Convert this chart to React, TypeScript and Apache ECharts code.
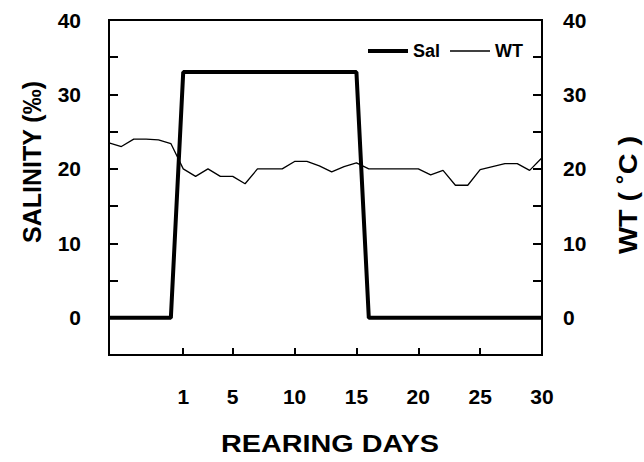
import React, { useEffect, useRef } from "react";
import * as echarts from "echarts";

const days = [-5, -4, -3, -2, -1, 0, 1, 2, 3, 4, 5, 6, 7, 8, 9, 10, 11, 12, 13, 14, 15, 16, 17, 18, 19, 20, 21, 22, 23, 24, 25, 26, 27, 28, 29, 30];
const wtValues = [23.5, 23.0, 24.0, 24.0, 23.9, 23.4, 20.0, 19.0, 20.0, 19.0, 19.0, 18.0, 20.0, 20.0, 20.0, 21.0, 21.0, 20.4, 19.6, 20.3, 20.8, 20.0, 20.0, 20.0, 20.0, 20.0, 19.2, 19.8, 17.8, 17.8, 19.9, 20.3, 20.7, 20.7, 19.8, 21.5];
const salDays = [-5, 0, 1, 15, 16, 30];
const salValues = [0, 0, 33, 33, 0, 0];
const xTickValues = [1, 5, 10, 15, 20, 25];
const xLabelValues = [1, 5, 10, 15, 20, 25, 30];
const yLabelValues = [0, 10, 20, 30, 40];

const FONT = "'Liberation Sans', Arial, Helvetica, sans-serif";

export default function App() {
  const ref = useRef<HTMLDivElement>(null);
  useEffect(() => {
    if (!ref.current) return;
    const chart = echarts.init(ref.current, null, { renderer: "svg" });
    const yAxisCommon = (margin: number) => ({
      type: "value",
      min: -5,
      max: 40,
      interval: 5,
      axisLine: { show: true, onZero: false, lineStyle: { color: "#000", width: 2 } },
      axisTick: { show: true, inside: true, length: 9, lineStyle: { color: "#000", width: 2 } },
      splitLine: { show: false },
      axisLabel: {
        margin,
        color: "#000",
        fontFamily: FONT,
        fontWeight: "bold",
        fontSize: 21,
        formatter: (v: number) => (yLabelValues.includes(v) ? String(v) : ""),
      },
    });
    chart.setOption({
      animation: false,
      backgroundColor: "#fff",
      grid: {
        left: 109,
        top: 20,
        right: 102,
        bottom: 107,
        show: true,
        borderColor: "#000",
        borderWidth: 2,
        containLabel: false,
      },
      legend: {
        left: 363,
        top: 37,
        itemWidth: 40,
        itemHeight: 14,
        itemGap: 10,
        itemStyle: { borderWidth: 0 },
        lineStyle: { width: 0 },
        textStyle: { color: "#000", fontFamily: FONT, fontWeight: "bold", fontSize: 18 },
        data: [
          { name: "Sal", icon: "path://M0,0L0,0M40,14L40,14M0,5L40,5L40,9L0,9Z" },
          { name: "WT", icon: "path://M0,0L0,0M40,14L40,14M0,6.3L40,6.3L40,7.7L0,7.7Z" },
        ],
      },
      xAxis: {
        type: "value",
        min: -5,
        max: 30,
        axisLine: { show: true, onZero: false, lineStyle: { color: "#000", width: 2 } },
        axisTick: { show: true, inside: true, length: 7, customValues: xTickValues, lineStyle: { color: "#000", width: 2 } },
        splitLine: { show: false },
        axisLabel: {
          customValues: xLabelValues,
          margin: 31,
          color: "#000",
          fontFamily: FONT,
          fontWeight: "bold",
          fontSize: 21,
        },
      },
      yAxis: [
        { ...yAxisCommon(28), position: "left" },
        { ...yAxisCommon(21), position: "right" },
      ],
      graphic: [
        {
          type: "text",
          x: 32,
          y: 162,
          rotation: Math.PI / 2,
          style: { text: "SALINITY (‰)", font: `bold 25px ${FONT}`, fill: "#000", textAlign: "center", textVerticalAlign: "middle" },
        },
        {
          type: "text",
          x: 629,
          y: 195,
          rotation: Math.PI / 2,
          scaleX: 1.15,
          style: { text: "WT ( ˚C )", font: `bold 25px ${FONT}`, fill: "#000", textAlign: "center", textVerticalAlign: "middle" },
        },
        {
          type: "text",
          x: 330,
          y: 444,
          scaleX: 1.2,
          style: { text: "REARING DAYS", font: `bold 24px ${FONT}`, fill: "#000", textAlign: "center", textVerticalAlign: "middle" },
        },
      ],
      series: [
        {
          name: "Sal",
          type: "line",
          yAxisIndex: 0,
          symbol: "none",
          data: salDays.map((d, i) => [d, salValues[i]]),
          lineStyle: { color: "#000", width: 4 },
          itemStyle: { color: "#000" },
        },
        {
          name: "WT",
          type: "line",
          yAxisIndex: 1,
          symbol: "none",
          data: days.map((d, i) => [d, wtValues[i]]),
          lineStyle: { color: "#000", width: 1.3 },
          itemStyle: { color: "#000" },
        },
      ],
    });
    return () => chart.dispose();
  }, []);
  return <div ref={ref} style={{ position: "fixed", left: 0, top: 0, width: 644, height: 462 }} />;
}
